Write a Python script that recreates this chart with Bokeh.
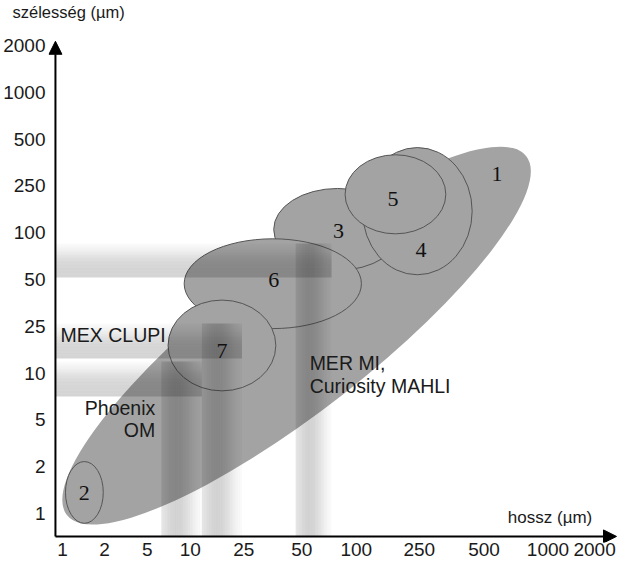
import numpy as np
from bokeh.plotting import figure
from bokeh.models import Range1d, FixedTicker, Arrow, NormalHead, Label, ColumnDataSource
from bokeh.embed import file_html
from bokeh.resources import INLINE
from bokeh.core.properties import value

# ---- data -------------------------------------------------------------
tick_labels = ["1", "2", "5", "10", "25", "50", "100", "250", "500", "1000", "2000"]

# ellipses (axis units: one unit = one tick step on the width axis)
ell_ids = ["1", "2", "3", "6", "7", "4", "5"]
ell_x = [5.02, 0.47, 5.90, 4.51, 3.42, 7.61, 7.14]
ell_y = [3.80, 0.45, 6.07, 4.91, 3.59, 6.46, 6.82]
ell_w = [12.5, 0.81, 2.74, 3.80, 2.31, 2.35, 2.16]
ell_h = [3.2, 1.32, 1.75, 1.92, 1.94, 2.72, 1.69]
ell_angle_deg = [38, 0, 0, 0, 0, 0, 0]

num_labels = ["1", "2", "3", "4", "5", "6", "7"]
num_x = [9.32, 0.47, 5.92, 7.69, 7.09, 4.53, 3.42]
num_y = [7.26, 0.43, 6.03, 5.64, 6.73, 4.98, 3.48]

# instrument resolution bands (length range, width range)
band_names = ["MER MI,\nCuriosity MAHLI", "MEX CLUPI", "Phoenix\nOM"]
band_x0 = [5.00, 2.99, 2.12]
band_x1 = [5.77, 3.85, 2.99]
band_y0 = [5.04, 3.31, 2.50]
band_y1 = [5.77, 4.06, 3.25]
band_label_x = [5.30, -0.04, 1.99]
band_label_y = [2.97, 3.82, 2.02]
band_label_align = ["left", "left", "right"]

# ---- layout -----------------------------------------------------------
AX_X, AX_Y = -0.15, -0.49        # where the two axis arrows cross
TIP_X, TIP_Y = 11.88, 10.09      # arrow tips
X0, X1 = -0.299, 11.944
Y0, Y1 = -0.62, 10.534
LINE_STEP = 0.48                 # line spacing of multi-line labels (axis units)
x_tick_pos = [0, 0.90, 1.82, 2.74, 3.89, 5.13, 6.30, 7.65, 9.04, 10.41, 11.41]
y_tick_pos = list(range(len(tick_labels)))

p = figure(width=619, height=564, output_backend="svg", toolbar_location=None,
           x_range=Range1d(X0, X1), y_range=Range1d(Y0, Y1),
           min_border_left=46, min_border_right=0, min_border_top=18, min_border_bottom=22)
p.outline_line_color = None
p.grid.visible = False
p.background_fill_color = "white"
p.border_fill_color = "white"

p.title.text = "szélesség (µm)"
p.title.align = "left"
p.title.offset = -36
p.title.standoff = 0
p.title.text_font = "Liberation Sans"
p.title.text_font_size = "16.5px"
p.title.text_font_style = "normal"
p.title.text_color = "#1a1a1a"

# ellipses
src = ColumnDataSource(dict(x=ell_x, y=ell_y, w=ell_w, h=ell_h,
                            a=[np.deg2rad(d) for d in ell_angle_deg],
                            lc=[None] + ["#555555"] * (len(ell_ids) - 1)))
p.ellipse(x="x", y="y", width="w", height="h", angle="a", source=src,
          fill_color="#a3a3a3", line_color="lc", line_width=1)

# bands drawn as thin strips to mimic the soft gradients
h_key = [0.17, 0.17, 0.16, 0.12, 0.06, 0.02]
v_key = [0.10, 0.15, 0.18, 0.17, 0.12, 0.06, 0.02]
NS = 24
h_prof = np.interp(np.linspace(0, 1, NS), np.linspace(0, 1, len(h_key)), h_key)
v_prof = np.interp(np.linspace(0, 1, NS), np.linspace(0, 1, len(v_key)), v_key)
L, R, B, T, A = [], [], [], [], []
for i in range(len(band_names)):
    ys = np.linspace(band_y0[i], band_y1[i], NS + 1)
    for k in range(NS):
        L.append(AX_X); R.append(band_x1[i]); B.append(ys[k]); T.append(ys[k + 1]); A.append(h_prof[k])
    xs = np.linspace(band_x0[i], band_x1[i], NS + 1)
    for k in range(NS):
        L.append(xs[k]); R.append(xs[k + 1]); B.append(AX_Y); T.append(band_y1[i]); A.append(v_prof[k])
p.quad(left=L, right=R, bottom=B, top=T, fill_color="black", fill_alpha=A, line_color=None)

# number labels
p.text(x=num_x, y=num_y, text=num_labels, text_font=value("Liberation Serif"),
       text_font_size="22px", text_align="center", text_baseline="middle", text_color="#111111")

# instrument labels (one text item per line)
tx, ty, tt, ta = [], [], [], []
for i, name in enumerate(band_names):
    lines = name.split("\n")
    n = len(lines)
    for j, line in enumerate(lines):
        tx.append(band_label_x[i])
        ty.append(band_label_y[i] + LINE_STEP * ((n - 1) / 2 - j))
        tt.append(line)
        ta.append(band_label_align[i])
p.text(x=tx, y=ty, text=tt, text_align=ta,
       text_font=value("Liberation Sans"), text_font_size="19.5px", text_baseline="middle",
       text_color="#1a1a1a")

# axes
for ax, pos in ((p.xaxis, x_tick_pos), (p.yaxis, y_tick_pos)):
    ax.ticker = FixedTicker(ticks=pos)
    ax.major_label_overrides = {pos[i]: tick_labels[i] for i in range(len(pos))}
    ax.axis_line_color = None
    ax.major_tick_line_color = None
    ax.minor_tick_line_color = None
    ax.major_tick_out = 0
    ax.major_tick_in = 0
    ax.minor_tick_out = 0
    ax.major_label_text_font = "Liberation Sans"
    ax.major_label_text_font_size = "19px"
    ax.major_label_text_color = "#1a1a1a"
p.yaxis.major_label_standoff = 3
p.xaxis.major_label_standoff = 0

head = dict(size=13, fill_color="black", line_color="black")
p.add_layout(Arrow(end=NormalHead(**head), x_start=AX_X, y_start=AX_Y, x_end=AX_X, y_end=TIP_Y,
                   line_width=2, line_color="black"))
p.add_layout(Arrow(end=NormalHead(**head), x_start=AX_X, y_start=AX_Y, x_end=TIP_X, y_end=AX_Y,
                   line_width=2, line_color="black"))

p.add_layout(Label(x=9.55, y=-0.085, text="hossz (µm)", text_font="Liberation Sans",
                   text_font_size="17px", text_baseline="middle", text_color="#1a1a1a"))

open("out.html", "w").write(file_html(p, INLINE))
